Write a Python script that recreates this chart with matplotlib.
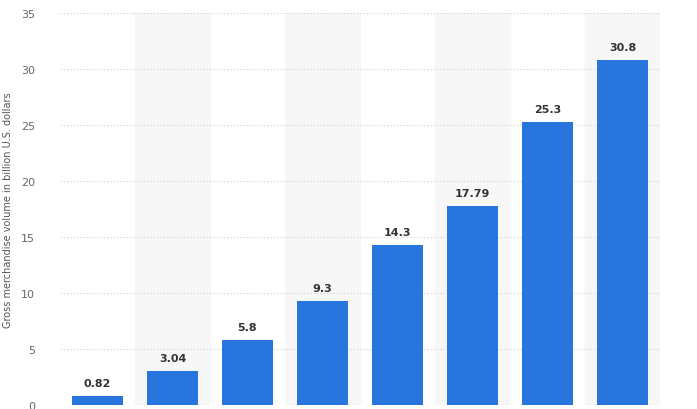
import matplotlib.pyplot as plt
import numpy as np

values = [0.82, 3.04, 5.8, 9.3, 14.3, 17.79, 25.3, 30.8]
labels = ['0.82', '3.04', '5.8', '9.3', '14.3', '17.79', '25.3', '30.8']
yticks = [0, 5, 10, 15, 20, 25, 30, 35]

fig = plt.figure(figsize=(6.97, 4.10), dpi=100)
ax = fig.add_axes([60 / 697, 4 / 410, 600 / 697, 392 / 410])

x = np.arange(len(values))
# shaded bands behind every other bar
for i in x[1::2]:
    ax.axvspan(i - 0.5, i + 0.5, color='#f7f7f7', zorder=0)

ax.bar(x, values, width=0.69, color='#2876dd', zorder=3)
for xi, v, lab in zip(x, values, labels):
    ax.text(xi, v + 0.7, lab, ha='center', va='bottom', fontsize=8,
            fontweight='bold', color='#333333', zorder=4)

ax.set_xlim(-0.5, 7.5)
ax.set_ylim(0, 35)
ax.set_yticks(yticks)
ax.tick_params(axis='y', length=0, labelsize=8, labelcolor='#666666', pad=18)
ax.set_xticks([])
ax.yaxis.grid(True, linestyle=(0, (1, 2)), color='#cccccc', linewidth=0.8, zorder=1)
for s in ax.spines.values():
    s.set_visible(False)
ax.set_ylabel('Gross merchandise volume in billion U.S. dollars', fontsize=7,
              color='#555555', labelpad=6)

fig.savefig('out.png', dpi=100)
